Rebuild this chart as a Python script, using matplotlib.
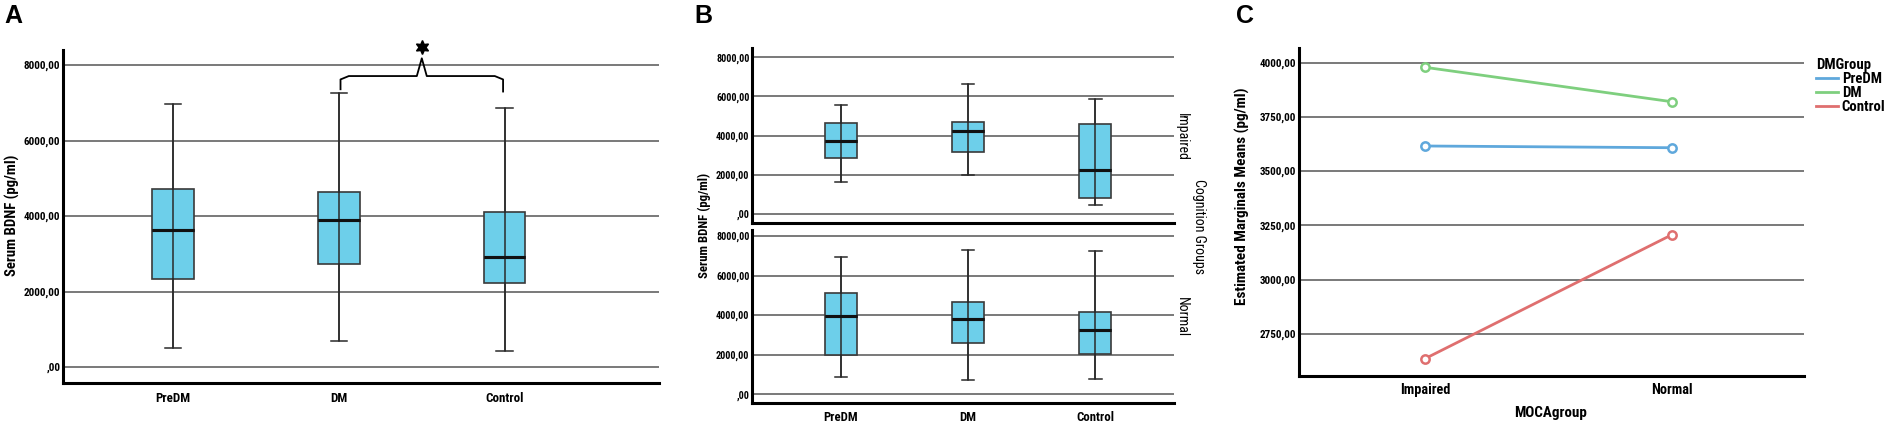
import matplotlib
matplotlib.use('Agg')
import matplotlib.pyplot as plt
import matplotlib.lines as mlines
from matplotlib.ticker import FuncFormatter

plt.rcParams['font.family'] = ['Roboto Condensed', 'Liberation Sans', 'DejaVu Sans']

W, H = 1890, 429

#data
groups = ['PreDM', 'DM', 'Control']
# panel A: whisker low, Q1, median, Q3, whisker high
a_lo = [520, 680, 440]
a_q1 = [2330, 2720, 2220]
a_med = [3640, 3890, 2910]
a_q3 = [4730, 4640, 4100]
a_hi = [6960, 7270, 6870]

# panel B, Impaired row
bi_lo = [1620, 1995, 430]
bi_q1 = [2850, 3170, 800]
bi_med = [3730, 4215, 2220]
bi_q3 = [4655, 4705, 4590]
bi_hi = [5545, 6650, 5870]
# panel B, Normal row
bn_lo = [875, 705, 760]
bn_q1 = [1985, 2605, 2035]
bn_med = [3970, 3805, 3250]
bn_q3 = [5105, 4680, 4175]
bn_hi = [6940, 7305, 7240]

# panel C
moca = ['Impaired', 'Normal']
c_predm = [3616, 3608]
c_dm = [3979, 3820]
c_control = [2635, 3207]

box_col = '#6dcfea'
grid_col = '#6e6e6e'


def comma_fmt(v, pos):
    s = '%.2f' % v
    s = s.replace('.', ',')
    if s.startswith('0,'):
        s = s[1:]
    return s


def px_axes(fig, l, r, t, b):
    return fig.add_axes([l / W, (H - b) / H, (r - l) / W, (b - t) / H])


def style(ax, ticks, fs=8.0):
    for s in ['top', 'right']:
        ax.spines[s].set_visible(False)
    for s in ['left', 'bottom']:
        ax.spines[s].set_linewidth(2.2)
        ax.spines[s].set_color('black')
    ax.set_yticks(ticks)
    ax.yaxis.set_major_formatter(FuncFormatter(comma_fmt))
    ax.tick_params(axis='y', length=0, labelsize=fs, pad=1.8)
    ax.tick_params(axis='x', length=0)
    for lab in ax.get_yticklabels():
        lab.set_fontweight('bold')
    for t in ticks:
        ax.axhline(t, color=grid_col, lw=1.3, zorder=0)


def boxes(ax, lo, q1, med, q3, hi, width, capw):
    stats = []
    for i in range(len(lo)):
        stats.append(dict(med=med[i], q1=q1[i], q3=q3[i], whislo=lo[i], whishi=hi[i], fliers=[]))
    pos = list(range(1, len(lo) + 1))
    ax.bxp(stats, positions=pos, widths=width, patch_artist=True, showfliers=False,
           boxprops=dict(facecolor=box_col, edgecolor='#3a3a3a', lw=1.2),
           medianprops=dict(color='#111111', lw=2.2),
           whiskerprops=dict(color='#2a2a2a', lw=1.1),
           capprops=dict(color='#2a2a2a', lw=1.1), capwidths=capw, zorder=2)
    ax.vlines(pos, lo, hi, color='#2a2a2a', lw=1.1, zorder=3)
    # median drawn again on top of the whisker line
    for p, m in zip(pos, med):
        ax.hlines(m, p - width / 2, p + width / 2, color='#111111', lw=2.2, zorder=4)


def ftext(x, y, s, **kw):
    return fig.text(x / W, 1 - y / H, s, ha='center', va='center', **kw)


fig = plt.figure(figsize=(W / 100, H / 100), dpi=100)

# ---------------- panel A
axA = px_axes(fig, 63, 659, 50, 383)
style(axA, [0, 2000, 4000, 6000, 8000])
boxes(axA, a_lo, a_q1, a_med, a_q3, a_hi, 0.25, 0.1)
axA.set_xlim(0.337, 3.93)
axA.set_ylim(-420, 8400)
axA.set_xticks([1, 2, 3])
axA.set_xticklabels(groups, fontweight='bold', fontsize=9.4)
axA.tick_params(axis='x', pad=6.5)
ftext(12.7, 215, 'Serum BDNF (pg/ml)', rotation=90, fontweight='bold', fontsize=10.6)
# significance brace between DM and Control
bx = [2.01, 2.01, 2.06, 2.47, 2.5, 2.53, 2.94, 2.99, 2.99]
by = [7360, 7620, 7710, 7710, 8180, 7710, 7710, 7620, 7300]
axA.plot(bx, by, color='black', lw=1.3, clip_on=False)
axA.plot([2.5], [8480], marker=(6, 1, 0), color='black', ms=10, clip_on=False)

# ---------------- panel B
axB1 = px_axes(fig, 752, 1174, 48, 223)
style(axB1, [0, 2000, 4000, 6000, 8000], fs=7.3)
boxes(axB1, bi_lo, bi_q1, bi_med, bi_q3, bi_hi, 0.25, 0.1)
axB1.set_xlim(0.3, 3.62)
axB1.set_ylim(-476, 8481)
axB1.set_xticks([])

axB2 = px_axes(fig, 752, 1174, 230, 403)
style(axB2, [0, 2000, 4000, 6000, 8000], fs=7.3)
boxes(axB2, bn_lo, bn_q1, bn_med, bn_q3, bn_hi, 0.25, 0.1)
axB2.set_xlim(0.3, 3.62)
axB2.set_ylim(-440, 8302)
axB2.set_xticks([1, 2, 3])
axB2.set_xticklabels(groups, fontweight='bold', fontsize=9.2)
axB2.tick_params(axis='x', pad=5.5)

ftext(704, 225, 'Serum BDNF (pg/ml)', rotation=90, fontweight='bold', fontsize=9.2)
ftext(1182, 137, 'Impaired', rotation=270, fontsize=10)
ftext(1182, 317, 'Normal', rotation=270, fontsize=10)
ftext(1199, 227, 'Cognition Groups', rotation=270, fontsize=10)

# ---------------- panel C
axC = px_axes(fig, 1299, 1804, 48, 376)
style(axC, [2750, 3000, 3250, 3500, 3750, 4000])
xs = [0, 1]
for vals, col, lab in [(c_predm, '#5fa8dc', 'PreDM'), (c_dm, '#7ecf7e', 'DM'),
                       (c_control, '#df6f6f', 'Control')]:
    axC.plot(xs, vals, color=col, lw=2, marker='o', ms=6, mfc='white', mec=col, mew=1.8,
             label=lab, zorder=3)
axC.set_xlim(-0.51, 1.534)
axC.set_ylim(2555, 4068)
axC.set_xticks(xs)
axC.set_xticklabels(moca, fontweight='bold', fontsize=10.3)
axC.tick_params(axis='x', pad=5)
ftext(1551, 413, 'MOCAgroup', fontweight='bold', fontsize=10.8)
ftext(1242, 196, 'Estimated Marginals Means (pg/ml)', rotation=90, fontweight='bold', fontsize=11)
handles, labels = axC.get_legend_handles_labels()
hl = [mlines.Line2D([], [], color=h.get_color(), lw=2) for h in handles]
leg = fig.legend(hl, labels, title='DMGroup', loc='upper left',
                 bbox_to_anchor=(1810 / W, 1 - 52 / H), frameon=False,
                 prop={'weight': 'bold', 'size': 10.6}, handlelength=1.5,
                 handletextpad=0.25, labelspacing=0.0, borderaxespad=0, alignment='left')
leg.get_title().set_fontweight('bold')
leg.get_title().set_fontsize(10.6)

# panel letters
for x, l in [(4, 'A'), (694, 'B'), (1236, 'C')]:
    fig.text(x / W, 1 - 4 / H, l, ha='left', va='top', fontsize=18, fontweight='bold',
             family='Liberation Sans')

fig.savefig('out.png', dpi=100)
